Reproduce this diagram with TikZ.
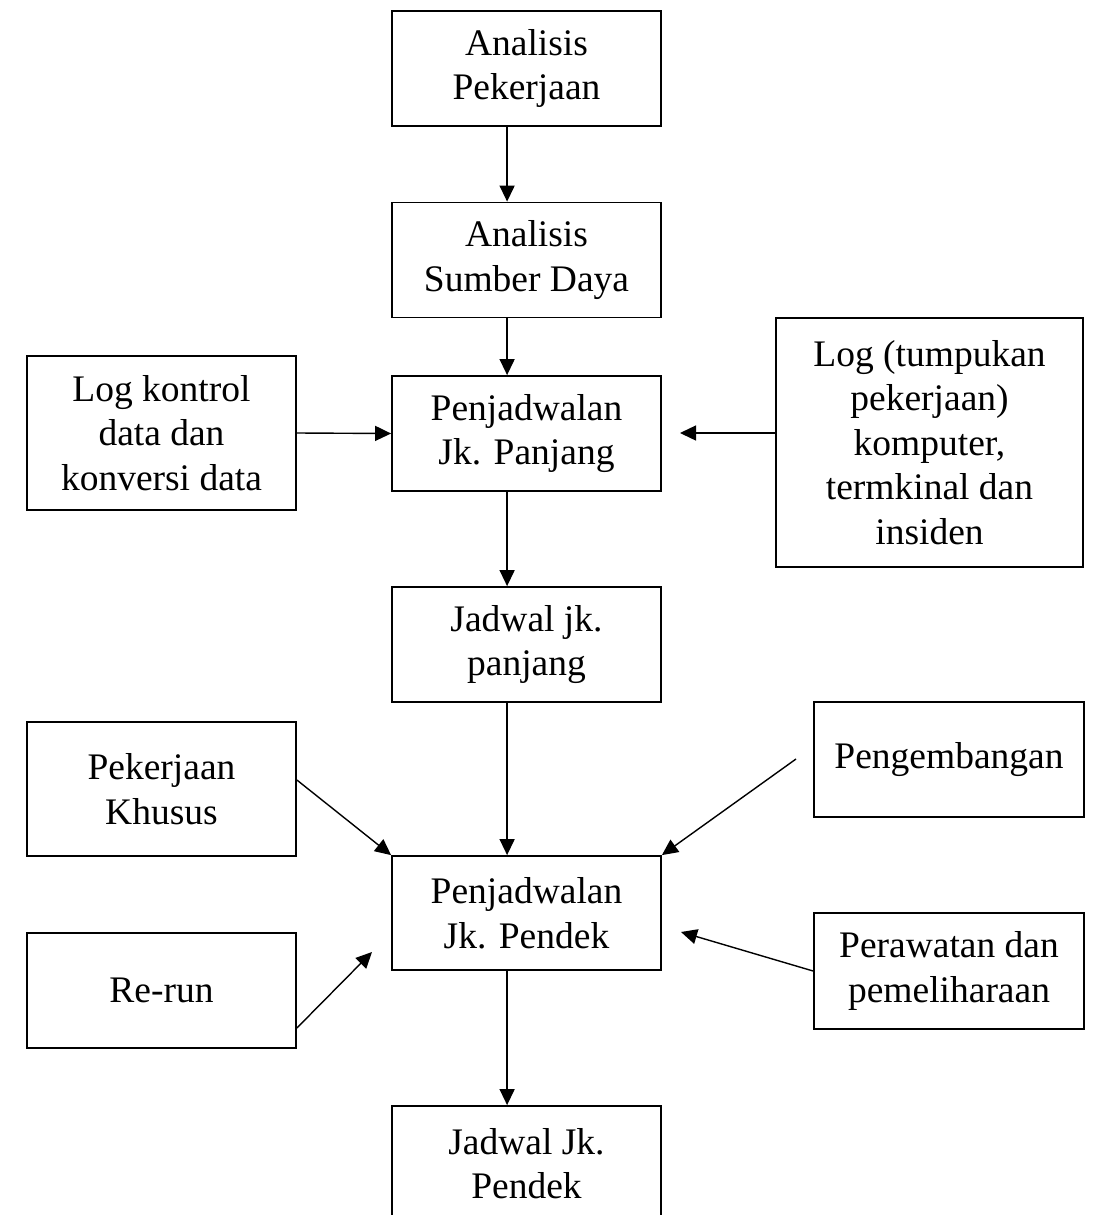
\documentclass[tikz,border=0pt]{standalone}
\usepackage{fontspec}
\setmainfont{Liberation Serif}
\usepackage{tikz}
\usetikzlibrary{arrows.meta}
\tikzset{
  blok/.style={draw=black,line width=1.8pt,minimum width=269pt,minimum height=115pt,
    inner sep=0pt,align=center,font=\fontsize{37.5}{44.5}\selectfont},
  panah/.style={draw=black,line width=1.4pt,-{Triangle[length=16pt,width=15pt]}},
}

\begin{document}
\begin{tikzpicture}[x=1pt,y=-1pt]
\useasboundingbox (0,0) rectangle (1092,1215);
\node[blok] (anPek) at (526.5,68.5) {Analisis\\Pekerjaan};
\node[blok] (anSum) at (526.5,260) {Analisis\\Sumber Daya};
\node[blok,minimum height=154pt] (logK) at (161.5,433) {Log kontrol\\data dan\\konversi data};
\node[blok] (pjPanjang) at (526.5,433.5) {Penjadwalan\\Jk. Panjang};
\node[blok,minimum width=307pt,minimum height=249pt] (logR) at (929.5,442.5) {Log (tumpukan\\pekerjaan)\\komputer,\\termkinal dan\\insiden};
\node[blok] (jdPanjang) at (526.5,644.5) {Jadwal jk.\\panjang};
\node[blok,minimum height=134pt] (pkKhusus) at (161.5,789) {Pekerjaan\\Khusus};
\node[blok,minimum width=270pt] (pgb) at (949,759.5) {Pengembangan};
\node[blok,minimum height=114pt] (pjPendek) at (526.5,913) {Penjadwalan\\Jk. Pendek};
\node[blok] (rerun) at (161.5,990.5) {Re-run};
\node[blok,minimum width=270pt,minimum height=116pt] (prw) at (949,971) {Perawatan dan\\pemeliharaan};
\node[blok] (jdPendek) at (526.5,1163.5) {Jadwal Jk.\\Pendek};
\coordinate (ujungLog) at (680,433);
\coordinate (pangkalPgb) at (796,759);
\coordinate (ujungRerun) at (372,952);
\coordinate (ujungPrw) at (681,932);
\draw[panah] ([xshift=116pt]anPek.south west) -- ([xshift=116pt]anSum.north west);
\draw[panah] ([xshift=116pt]anSum.south west) -- ([xshift=116pt]pjPanjang.north west);
\draw[panah] (logK.east) -- (pjPanjang.west);
\draw[panah] ([yshift=9.5pt]logR.west) -- (ujungLog);
\draw[panah] ([xshift=116pt]pjPanjang.south west) -- ([xshift=116pt]jdPanjang.north west);
\draw[panah] ([xshift=116pt]jdPanjang.south west) -- ([xshift=116pt]pjPendek.north west);
\draw[panah] ([yshift=9pt]pkKhusus.east) -- (pjPendek.north west);
\draw[panah] (pangkalPgb) -- (pjPendek.north east);
\draw[panah] ([yshift=-37.5pt]rerun.east) -- (ujungRerun);
\draw[panah] (prw.west) -- (ujungPrw);
\draw[panah] ([xshift=116pt]pjPendek.south west) -- ([xshift=116pt]jdPendek.north west);
\end{tikzpicture}
\end{document}
